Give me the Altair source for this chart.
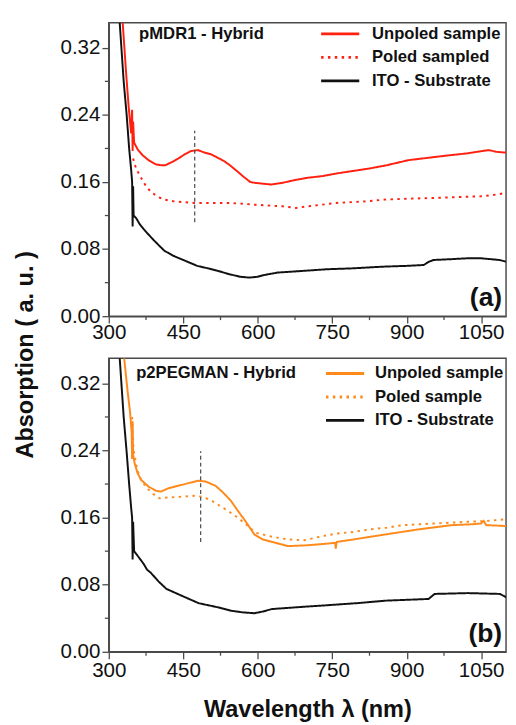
import altair as alt
import pandas as pd

# ---------------- data ----------------
# Panel (a): pMDR1 - Hybrid
a_unp_nm = [328, 335, 340, 345, 347, 348, 349, 351, 358, 368, 380, 395, 405, 414, 428, 440, 453, 466,
            480, 493, 506, 519, 532, 544, 558, 572, 585, 594, 610, 627, 650, 672, 700, 730, 757, 790,
            824, 860, 903, 945, 988, 1020, 1053, 1066, 1080, 1100]
a_unp_ab = [0.350, 0.289, 0.250, 0.218, 0.246, 0.197, 0.232, 0.207, 0.199, 0.192, 0.186, 0.181, 0.180,
            0.180, 0.184, 0.188, 0.193, 0.197, 0.198, 0.195, 0.193, 0.189, 0.185, 0.180, 0.173, 0.166,
            0.160, 0.159, 0.158, 0.157, 0.159, 0.162, 0.165, 0.167, 0.170, 0.173, 0.176, 0.180, 0.186,
            0.189, 0.192, 0.194, 0.197, 0.198, 0.196, 0.195]

a_pol_nm = [349, 355, 365, 375, 385, 400, 412, 430, 450, 472, 500, 543, 570, 592, 620, 650, 677, 700,
            730, 757, 790, 820, 855, 900, 954, 1000, 1053, 1080, 1100]
a_pol_ab = [0.188, 0.176, 0.165, 0.155, 0.148, 0.142, 0.139, 0.137, 0.136, 0.135, 0.135, 0.135, 0.134,
            0.133, 0.132, 0.131, 0.129, 0.131, 0.133, 0.135, 0.136, 0.137, 0.139, 0.140, 0.141, 0.142,
            0.143, 0.145, 0.147]

a_ito_nm = [322, 330, 336, 341, 345, 347, 348, 349, 350, 355, 362, 370, 379, 390, 400, 412, 430, 450,
            478, 500, 520, 543, 565, 583, 600, 612, 640, 691, 740, 790, 850, 900, 934, 945, 954, 990,
            1021, 1050, 1087, 1100]
a_ito_ab = [0.350, 0.280, 0.240, 0.200, 0.175, 0.160, 0.107, 0.155, 0.120, 0.117, 0.110, 0.104, 0.098,
            0.091, 0.085, 0.078, 0.072, 0.067, 0.060, 0.057, 0.054, 0.050, 0.047, 0.046, 0.047, 0.049,
            0.052, 0.054, 0.056, 0.057, 0.059, 0.060, 0.061, 0.065, 0.067, 0.068, 0.069, 0.069, 0.067,
            0.065]

# Panel (b): p2PEGMAN - Hybrid
b_unp_nm = [331, 338, 343, 346, 347, 348, 349, 352, 358, 365, 380, 395, 405, 420, 440, 460, 480, 495,
            515, 530, 546, 560, 575, 593, 610, 629, 661, 700, 740, 756, 757, 759, 793, 858, 924, 990,
            1030, 1050, 1055, 1060, 1100]
b_unp_ab = [0.350, 0.310, 0.285, 0.262, 0.230, 0.275, 0.235, 0.225, 0.213, 0.205, 0.197, 0.192, 0.191,
            0.195, 0.198, 0.201, 0.204, 0.203, 0.198, 0.190, 0.180, 0.168, 0.156, 0.140, 0.134, 0.131,
            0.126, 0.127, 0.129, 0.130, 0.123, 0.131, 0.134, 0.140, 0.146, 0.151, 0.152, 0.153, 0.156,
            0.151, 0.150]

b_pol_nm = [347, 350, 357, 365, 377, 390, 402, 420, 448, 470, 487, 505, 521, 540, 560, 580, 596, 630,
            661, 694, 730, 760, 793, 826, 860, 891, 925, 956, 990, 1023, 1060, 1100]
b_pol_ab = [0.280, 0.240, 0.218, 0.205, 0.195, 0.188, 0.183, 0.184, 0.185, 0.186, 0.185, 0.181, 0.175,
            0.168, 0.160, 0.150, 0.142, 0.137, 0.134, 0.133, 0.138, 0.141, 0.143, 0.146, 0.148, 0.151,
            0.152, 0.153, 0.154, 0.155, 0.156, 0.158]

b_ito_nm = [322, 330, 336, 341, 345, 347, 348, 349, 351, 360, 370, 377, 385, 400, 416, 450, 481, 520,
            546, 570, 593, 610, 629, 700, 727, 800, 858, 944, 956, 1023, 1088, 1100]
b_ito_ab = [0.350, 0.280, 0.238, 0.200, 0.172, 0.160, 0.110, 0.155, 0.120, 0.113, 0.105, 0.098, 0.094,
            0.084, 0.075, 0.066, 0.058, 0.053, 0.049, 0.047, 0.046, 0.048, 0.051, 0.054, 0.055, 0.058,
            0.061, 0.063, 0.069, 0.070, 0.069, 0.065]

# dashed marker lines (wavelength, from, to)
a_mark = [473, 0.112, 0.221]
b_mark = [485, 0.131, 0.239]

names_a = ["Unpoled sample", "Poled sampled", "ITO - Substrate"]
names_b = ["Unpoled sample", "Poled sample", "ITO - Substrate"]

X_MAJOR = [300, 450, 600, 750, 900, 1050]
X_MINOR = [375, 525, 675, 825, 975]
Y_MAJOR = [0.00, 0.08, 0.16, 0.24, 0.32]
Y_MINOR = [0.04, 0.12, 0.20, 0.28]

FONT = "Liberation Sans"
AX = "#4a4a4a"
W, H = 406, 300


def build_df(names, series):
    rows = []
    for name, (nm, ab) in zip(names, series):
        for i, (x, y) in enumerate(zip(nm, ab)):
            rows.append({"nm": x, "absorb": y, "series": name, "idx": i})
    return pd.DataFrame(rows)


def panel(df, names, colors, mark, label, tag, ytitle, xtitle, leg_x, leg_y, leg_off,
          lab_x, lab_y, xlabpad):
    xs = alt.Scale(domain=[300, 1100], nice=False, zero=False)
    ys = alt.Scale(domain=[0, 0.35], nice=False, zero=False)
    x_axis_kw = dict(values=X_MAJOR, format="d", labelFontSize=21, labelFont=FONT, labelColor="#111",
                     tickSize=7, tickColor=AX, tickWidth=1.3, domainColor=AX, domainWidth=1.5,
                     labelPadding=xlabpad, grid=False, labelFlush=-0.5, labelAlign="center",
                     labelOverlap=False)
    if xtitle:
        x_axis_kw.update(title=xtitle, titleFontSize=24, titleFont=FONT, titleFontWeight="bold",
                         titleColor="#111", titlePadding=18)
    else:
        x_axis_kw.update(title=None)
    y_axis_kw = dict(values=Y_MAJOR, format=".2f", labelFontSize=21, labelFont=FONT, labelColor="#111",
                     tickSize=7, tickColor=AX, tickWidth=1.3, domainColor=AX, domainWidth=1.5,
                     labelPadding=2, grid=False, labelFlush=False, labelBaseline="middle",
                     labelOverlap=False)
    if ytitle:
        y_axis_kw.update(title=ytitle, titleFontSize=24, titleFont=FONT, titleFontWeight="bold",
                         titleColor="#111", titlePadding=23, titleY=339)
    else:
        y_axis_kw.update(title=None)
    xe = alt.X("nm:Q", scale=xs, axis=alt.Axis(**x_axis_kw))
    ye = alt.Y("absorb:Q", scale=ys, axis=alt.Axis(**y_axis_kw))

    leg = alt.Legend(title=None, orient="none", legendX=leg_x, legendY=leg_y, symbolType="M-2,0H2",
                     symbolSize=380, symbolStrokeWidth=3, labelFont=FONT, labelFontSize=17,
                     labelFontWeight="bold", labelColor="#111", rowPadding=4, labelOffset=leg_off,
                     padding=0)
    lines = alt.Chart(df).mark_line(clip=True, strokeWidth=2).encode(
        x=xe, y=ye,
        color=alt.Color("series:N", scale=alt.Scale(domain=names, range=colors), legend=leg),
        strokeDash=alt.StrokeDash("series:N",
                                  scale=alt.Scale(domain=names, range=[[1, 0], [2.5, 4.5], [1, 0]]),
                                  legend=leg),
        order=alt.Order("idx:Q"),
    )
    mdf = pd.DataFrame({"nm": [mark[0]], "absorb": [mark[1]], "absorb2": [mark[2]]})
    rule = alt.Chart(mdf).mark_rule(color="#555", strokeWidth=1.3, strokeDash=[4, 3]).encode(
        x=xe, y=ye, y2="absorb2:Q")
    ldf = pd.DataFrame({"t": [label]})
    lab = alt.Chart(ldf).mark_text(align="left", baseline="middle", font=FONT, fontSize=17,
                                   fontWeight="bold", color="#111").encode(
        x=alt.value(lab_x), y=alt.value(lab_y), text="t:N")
    tdf = pd.DataFrame({"t": [tag]})
    tg = alt.Chart(tdf).mark_text(align="right", baseline="middle", font=FONT, fontSize=27,
                                  fontWeight="bold", color="#111").encode(
        x=alt.value(402), y=alt.value(282), text="t:N")

    # minor ticks, positioned through the shared scales
    xmin = alt.Chart(pd.DataFrame({"nm": X_MINOR})).mark_rule(
        clip=False, color=AX, strokeWidth=1.3).encode(
        x=xe, y=alt.value(H), y2=alt.value(H + 4))
    ymin = alt.Chart(pd.DataFrame({"absorb": Y_MINOR})).mark_rule(
        clip=False, color=AX, strokeWidth=1.3).encode(
        y=ye, x=alt.value(0), x2=alt.value(-4))

    return alt.layer(lines, rule, xmin, ymin, lab, tg).properties(width=W, height=H)


df_a = build_df(names_a, [(a_unp_nm, a_unp_ab), (a_pol_nm, a_pol_ab), (a_ito_nm, a_ito_ab)])
df_b = build_df(names_b, [(b_unp_nm, b_unp_ab), (b_pol_nm, b_pol_ab), (b_ito_nm, b_ito_ab)])

top = panel(df_a, names_a, ["#ff2010", "#ff2010", "#111111"], a_mark, "pMDR1 - Hybrid", "(a)",
            "Absorption ( a. u. )", None, 225, 0, 21, 31, 12, -1)
bottom = panel(df_b, names_b, ["#ff8a1c", "#ff8a1c", "#111111"], b_mark, "p2PEGMAN - Hybrid", "(b)",
               None, "Wavelength \u03bb (nm)", 230, 4, 19, 28, 15, 1)

chart = alt.vconcat(top, bottom, spacing=43, bounds="flush").resolve_scale(
    color="independent", strokeDash="independent"
).properties(
    padding={"left": 5, "top": 6, "right": 1, "bottom": 2}
).configure_view(stroke=AX, strokeWidth=1.5)

chart.save("out.html", embed_options={"renderer": "svg", "actions": False})
